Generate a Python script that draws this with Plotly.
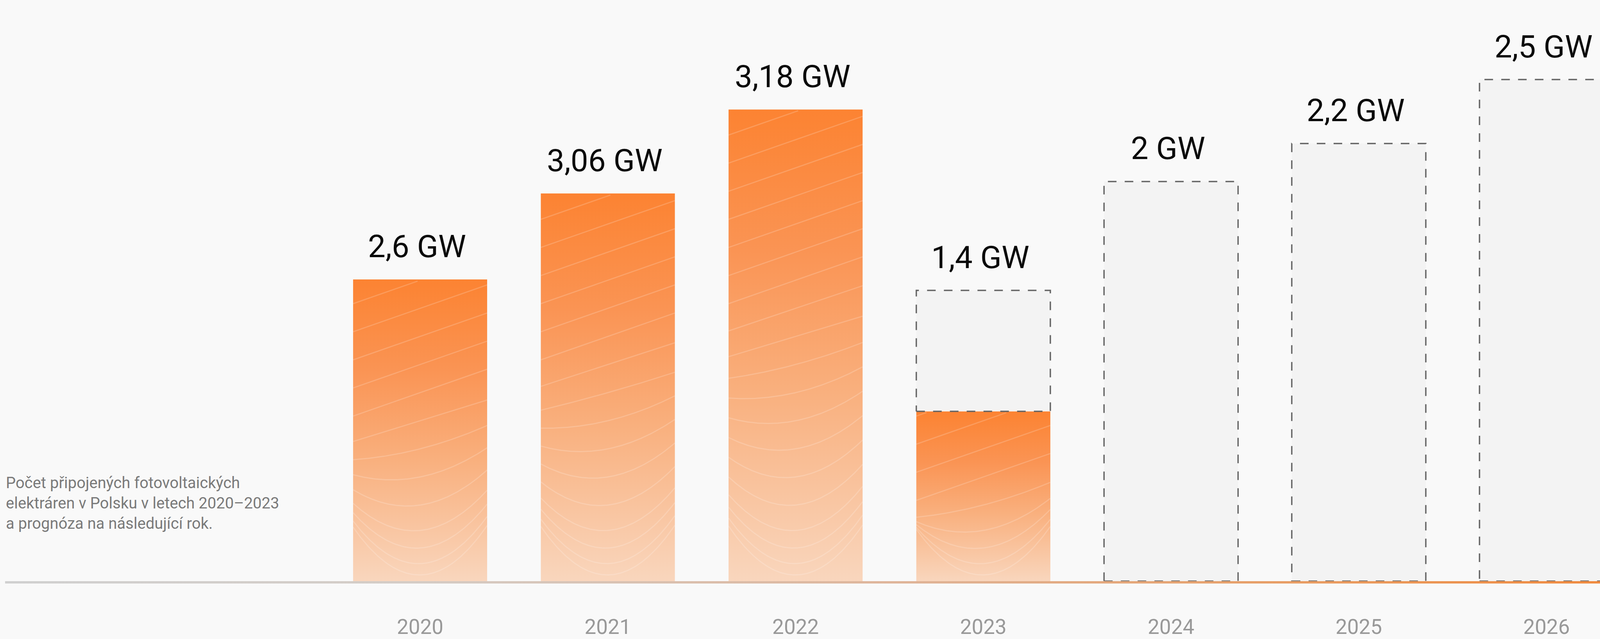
import numpy as np
import plotly.graph_objects as go

# ---------------- data ----------------
years = ["2020", "2021", "2022", "2023", "2024", "2025", "2026"]
value_labels = ["2,6 GW", "3,06 GW", "3,18 GW", "1,4 GW", "2 GW", "2,2 GW", "2,5 GW"]
# drawn heights as they appear in the picture (the source graphic is not to scale)
actual_height = [1.51, 1.94, 2.36, 0.85]                       # solid orange bars 2020-2023
forecast_height = [None, None, None, 1.455, 2.0, 2.19, 2.51]   # dashed forecast boxes
note_lines = ["Počet připojených fotovoltaických",
              "elektráren v Polsku v letech 2020–2023",
              "a prognóza na následující rok."]

# ---------------- layout constants ----------------
FIG_W, FIG_H = 4140, 1635
BOTTOM_MARGIN = 135
PX_X = 480.6          # pixels per category step
PX_Y = 512.0          # pixels per height unit
BAR_W = 0.714
X_LO = -1075.5 / PX_X
X_HI = X_LO + FIG_W / PX_X
Y_HI = 1489 / PX_Y
Y_LO = -((FIG_H - BOTTOM_MARGIN) - 1489) / PX_Y

FONT = "Roboto"
BG = "#f9f9f9"
bar_grad = [[0.0, "#f9d6bd"], [0.4, "#f9b07e"], [0.7, "#fa9454"], [1.0, "#fc8332"]]
base_grad = [[0.0, "#d0d0d0"], [0.25, "#d4ccc6"], [0.55, "#dfb59a"],
             [0.77, "#e7a06a"], [1.0, "#f08a3e"]]

fig = go.Figure()

xpos = list(range(len(years)))

# solid bars with vertical gradient
for i, h in enumerate(actual_height):
    l, r = xpos[i] - BAR_W / 2, xpos[i] + BAR_W / 2
    fig.add_trace(go.Scatter(
        x=[l, r, r, l, l], y=[0, 0, h, h, 0], mode="lines",
        line=dict(width=0, color="rgba(0,0,0,0)"), fill="toself",
        fillgradient=dict(type="vertical", colorscale=bar_grad),
        hoverinfo="skip"))

# decorative white wave lines inside the solid bars
u = np.linspace(0, 1, 80)
for i, h in enumerate(actual_height):
    hpx = h * PX_Y
    wx, wy = [], []
    levels = [16, 45, 85, 130] + list(np.arange(195, hpx + 300, 72))
    for c in levels:
        t = c / hpx
        m = 120 * min(1.0, t / 0.6)
        s = 130 * max(0.0, 1 - t / 0.5)
        ypx = c + m * (u - 0.5) + s * (2 * u - 1) ** 2
        ypx = np.where((ypx > 3) & (ypx < hpx - 3), ypx, np.nan)
        wx += list(xpos[i] - BAR_W / 2 + u * BAR_W) + [None]
        wy += list(ypx / PX_Y) + [None]
    fig.add_trace(go.Scatter(x=wx, y=wy, mode="lines",
                             line=dict(color="rgba(255,255,255,0.18)", width=3),
                             hoverinfo="skip"))

# dashed forecast boxes
for i, top in enumerate(forecast_height):
    if top is None:
        continue
    b = actual_height[i] if i < len(actual_height) else 0
    l, r = xpos[i] - BAR_W / 2, xpos[i] + BAR_W / 2
    fig.add_trace(go.Scatter(
        x=[l, r, r, l, l], y=[b, b, top, top, b], mode="lines",
        fill="toself", fillcolor="#f3f3f3",
        line=dict(color="#666666", width=3.5, dash="22px,21px"),
        hoverinfo="skip"))

# baseline with horizontal gradient
bl = X_LO + 13 / PX_X
th = 6 / PX_Y
fig.add_trace(go.Scatter(
    x=[bl, X_HI, X_HI, bl, bl], y=[-th, -th, 0, 0, -th], mode="lines",
    line=dict(width=0, color="rgba(0,0,0,0)"), fill="toself",
    fillgradient=dict(type="horizontal", colorscale=base_grad),
    hoverinfo="skip"))

# value labels
for i, txt in enumerate(value_labels):
    tops = [v for v in [actual_height[i] if i < len(actual_height) else None,
                        forecast_height[i]] if v is not None]
    fig.add_annotation(x=xpos[i], y=max(tops), text=txt, showarrow=False,
                       xanchor="center", yanchor="bottom", yshift=35, xshift=-8,
                       font=dict(family=FONT, size=80, color="#0a0a0a"))

# side note
fig.add_annotation(xref="paper", yref="paper", x=13 / FIG_W, y=1 - 1212 / (FIG_H - BOTTOM_MARGIN),
                   xanchor="left", yanchor="top", align="left", showarrow=False,
                   text="<br>".join(note_lines),
                   font=dict(family=FONT, size=40, color="#7a7a7a"))

fig.update_layout(
    width=FIG_W, height=FIG_H,
    margin=dict(l=0, r=0, t=0, b=BOTTOM_MARGIN, pad=0),
    paper_bgcolor=BG, plot_bgcolor=BG, showlegend=False,
    xaxis=dict(range=[X_LO, X_HI], tickvals=xpos, ticktext=years,
               showgrid=False, zeroline=False, showline=False, ticks="",
               tickfont=dict(family=FONT, size=53, color="#999999"),
               ticklabelstandoff=70, fixedrange=True),
    yaxis=dict(range=[Y_LO, Y_HI], visible=False, fixedrange=True),
)

fig.write_html("out.html", config={"displayModeBar": False},
               post_script="document.body.style.margin='0';document.body.style.overflow='hidden';")
